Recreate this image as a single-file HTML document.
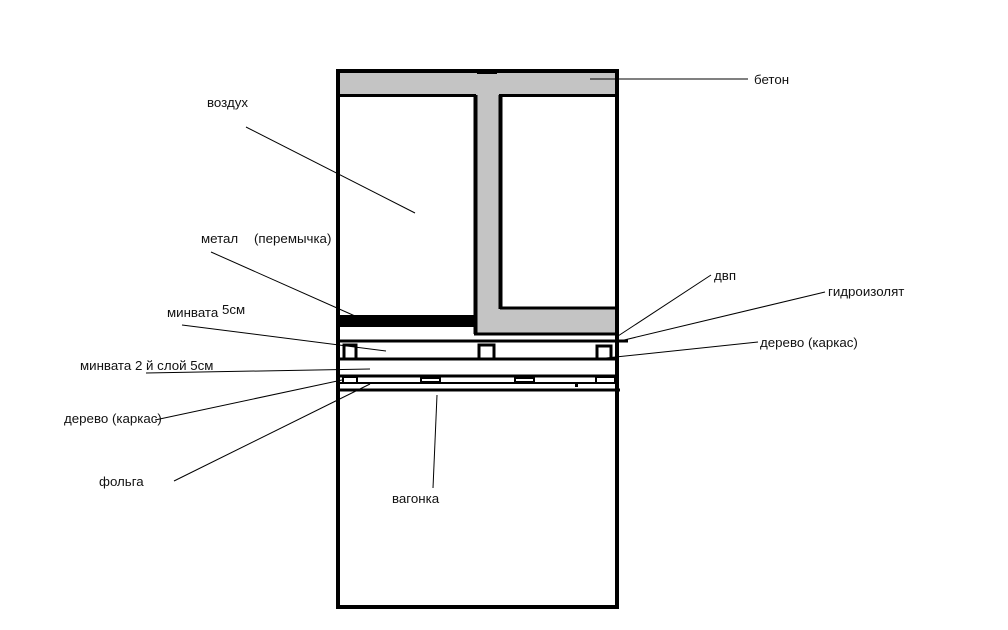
<!DOCTYPE html>
<html><head><meta charset="utf-8"><style>
html,body{margin:0;padding:0;background:#fff;}
svg{display:block;}
text{font-family:"Liberation Sans","DejaVu Sans",sans-serif;font-size:13.3px;fill:#111;}
</style></head><body>
<svg width="1008" height="630" viewBox="0 0 1008 630" xmlns="http://www.w3.org/2000/svg">
<rect x="0" y="0" width="1008" height="630" fill="#fff"/>
<rect x="338" y="71" width="280" height="24" fill="#c4c4c4"/>
<rect x="477" y="93" width="23" height="240" fill="#c4c4c4"/>
<rect x="500" y="309" width="116" height="24" fill="#c4c4c4"/>
<rect x="477" y="70" width="20" height="4" fill="#000"/>
<line x1="338" y1="95.5" x2="476" y2="95.5" stroke="#000" stroke-width="3"/>
<line x1="499" y1="95.5" x2="617" y2="95.5" stroke="#000" stroke-width="3"/>
<line x1="475.5" y1="95" x2="475.5" y2="334" stroke="#000" stroke-width="4"/>
<line x1="500.5" y1="95" x2="500.5" y2="309" stroke="#000" stroke-width="4"/>
<line x1="500" y1="308" x2="617" y2="308" stroke="#000" stroke-width="3"/>
<line x1="474" y1="334" x2="617" y2="334" stroke="#000" stroke-width="3"/>
<rect x="338" y="315" width="137" height="12" fill="#000"/>
<line x1="336" y1="341" x2="628" y2="341" stroke="#000" stroke-width="3"/>
<line x1="336" y1="359" x2="618" y2="359" stroke="#000" stroke-width="3"/>
<rect x="344" y="345" width="12" height="14" fill="none" stroke="#000" stroke-width="3"/>
<rect x="479" y="345" width="15" height="14" fill="none" stroke="#000" stroke-width="3"/>
<rect x="597" y="346" width="14" height="13" fill="none" stroke="#000" stroke-width="3"/>
<line x1="336" y1="376" x2="618" y2="376" stroke="#000" stroke-width="3"/>
<line x1="336" y1="383" x2="618" y2="383" stroke="#000" stroke-width="2"/>
<line x1="336" y1="390" x2="620" y2="390" stroke="#000" stroke-width="3"/>
<rect x="343" y="377" width="14" height="6" fill="none" stroke="#000" stroke-width="2"/>
<rect x="421" y="378" width="19" height="4" fill="none" stroke="#000" stroke-width="2"/>
<rect x="515" y="378" width="19" height="4" fill="none" stroke="#000" stroke-width="2"/>
<rect x="596" y="377" width="19" height="6" fill="none" stroke="#000" stroke-width="2"/>
<rect x="575" y="384" width="3" height="3" fill="#000"/>
<rect x="338" y="71" width="279" height="536" fill="none" stroke="#000" stroke-width="4"/>
<g stroke="#000" stroke-width="1" fill="none">
<line x1="590" y1="79" x2="748" y2="79"/>
<line x1="246" y1="127" x2="415" y2="213"/>
<line x1="211" y1="252" x2="355" y2="316"/>
<line x1="182" y1="325" x2="386" y2="351"/>
<line x1="146" y1="373" x2="370" y2="369"/>
<line x1="155" y1="420" x2="342" y2="380"/>
<line x1="174" y1="481" x2="370" y2="384"/>
<line x1="437" y1="395" x2="433" y2="488"/>
<line x1="711" y1="275" x2="618" y2="336"/>
<line x1="825" y1="292" x2="620" y2="341"/>
<line x1="758" y1="342" x2="606" y2="358"/>
</g>
<text x="207" y="107">воздух</text>
<text x="754" y="84">бетон</text>
<text x="201" y="243">метал</text>
<text x="254" y="243">(перемычка)</text>
<text x="167" y="317">минвата</text>
<text x="222" y="314">5см</text>
<text x="80" y="370">минвата 2 й слой 5см</text>
<text x="64" y="423">дерево (каркас)</text>
<text x="99" y="486">фольга</text>
<text x="392" y="503">вагонка</text>
<text x="714" y="280">двп</text>
<text x="828" y="296">гидроизолят</text>
<text x="760" y="347">дерево (каркас)</text>
</svg>
</body></html>
